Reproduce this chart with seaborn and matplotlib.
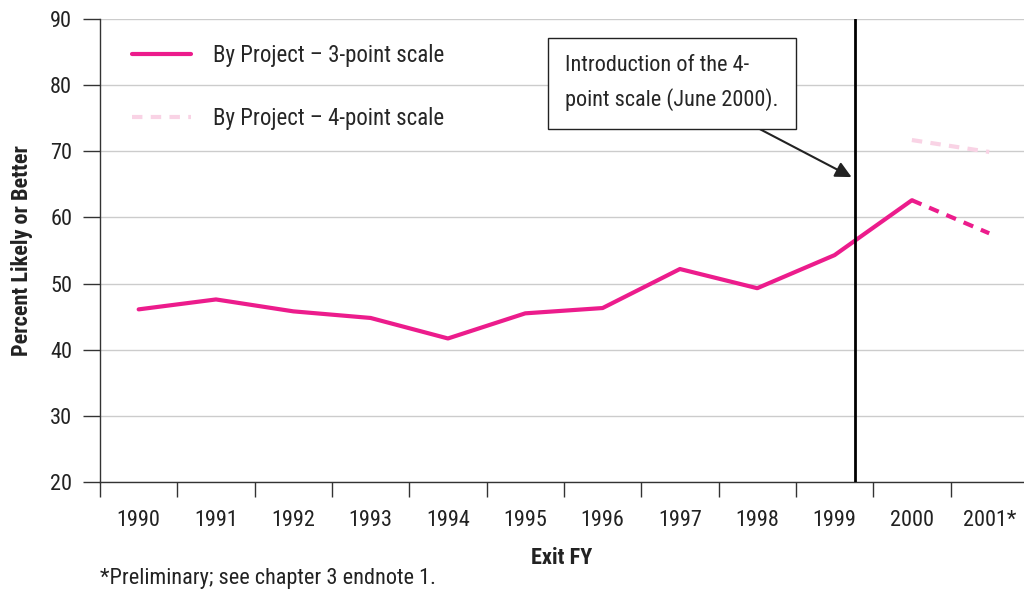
import numpy as np
import pandas as pd
import matplotlib
matplotlib.use('Agg')
import matplotlib.pyplot as plt
import seaborn as sns

years = ['1990', '1991', '1992', '1993', '1994', '1995', '1996',
         '1997', '1998', '1999', '2000', '2001*']
three_point = [46.1, 47.6, 45.8, 44.8, 41.7, 45.5, 46.3, 52.2, 49.3, 54.3, 62.6]
three_point_prelim = [62.6, 57.6]   # 2000 -> 2001*
four_point = [71.7, 69.9]           # 2000 -> 2001*
intro_pos = 9.27                    # June 2000 marker

MAGENTA = '#EC1C8C'
LIGHT_PINK = '#F9D3E5'
FS = 16

sns.set_theme(style='white')
plt.rcParams['font.family'] = ['Roboto Condensed', 'DejaVu Sans']
plt.rcParams['font.size'] = FS

df3 = pd.DataFrame({'pos': np.arange(len(three_point)), 'value': three_point})
df3p = pd.DataFrame({'pos': [10, 11], 'value': three_point_prelim})
df4 = pd.DataFrame({'pos': [10, 11], 'value': four_point})

fig = plt.figure(figsize=(10.24, 5.9), dpi=100)
ax = fig.add_axes([100 / 1024, 1 - 482 / 590, 924 / 1024, 463 / 590])

sns.lineplot(data=df3, x='pos', y='value', ax=ax, color=MAGENTA, lw=3,
             label='By Project – 3-point scale')
sns.lineplot(data=df3p, x='pos', y='value', ax=ax, color=MAGENTA, lw=3, linestyle='--')
sns.lineplot(data=df4, x='pos', y='value', ax=ax, color=LIGHT_PINK, lw=3, linestyle='--',
             label='By Project – 4-point scale')
ax.lines[1].set_dashes((2.5, 2))
ax.lines[2].set_dashes((2.5, 2))

ax.axvline(intro_pos, color='black', lw=2, zorder=3)

ax.set_ylim(20, 90)
ax.set_xlim(-0.5, 11.45)
ax.set_yticks(range(20, 91, 10))
ax.yaxis.grid(True, color='#cccccc', lw=1)
ax.set_axisbelow(True)

ax.set_xticks(range(len(years)))
ax.set_xticklabels(years)
ax.set_xticks(np.arange(-0.5, 11.5, 1), minor=True)
ax.tick_params(axis='x', which='major', length=0, pad=20, labelsize=FS, colors='#222222')
ax.tick_params(axis='x', which='minor', length=11, width=1, color='#333333', direction='out')
ax.tick_params(axis='y', which='major', length=12, width=1, color='#333333',
               direction='out', pad=8, labelsize=FS, labelcolor='#222222')
ax.xaxis.set_ticks_position('bottom')
ax.yaxis.set_ticks_position('left')

for s in ['top', 'right']:
    ax.spines[s].set_visible(False)
for s in ['left', 'bottom']:
    ax.spines[s].set_color('#333333')
    ax.spines[s].set_linewidth(1)

ax.set_xlabel('Exit FY', fontsize=FS, fontweight='bold', labelpad=12, color='#222222')
ax.set_ylabel('Percent Likely or Better', fontsize=FS, fontweight='bold', labelpad=12,
              color='#222222')

ax.legend(loc='upper left', bbox_to_anchor=(0.012, 0.99), frameon=False,
          handlelength=2.6, handletextpad=0.95, labelspacing=1.75, fontsize=16.5)

ax.annotate('Introduction of the 4-\npoint scale (June 2000).',
            xy=(9.22, 66.1), xytext=(565, 590 - 83), textcoords='figure pixels',
            ha='left', va='center', fontsize=FS, linespacing=1.7,
            bbox=dict(boxstyle='square,pad=0.78', fc='white', ec='#222222', lw=1),
            arrowprops=dict(arrowstyle='-|>', color='#222222', lw=1.5,
                            mutation_scale=24, shrinkA=0, shrinkB=0))

fig.text(100 / 1024, 1 - 584 / 590, '*Preliminary; see chapter 3 endnote 1.',
         fontsize=FS, color='#222222', ha='left', va='baseline')

fig.savefig('out.png', dpi=100)
